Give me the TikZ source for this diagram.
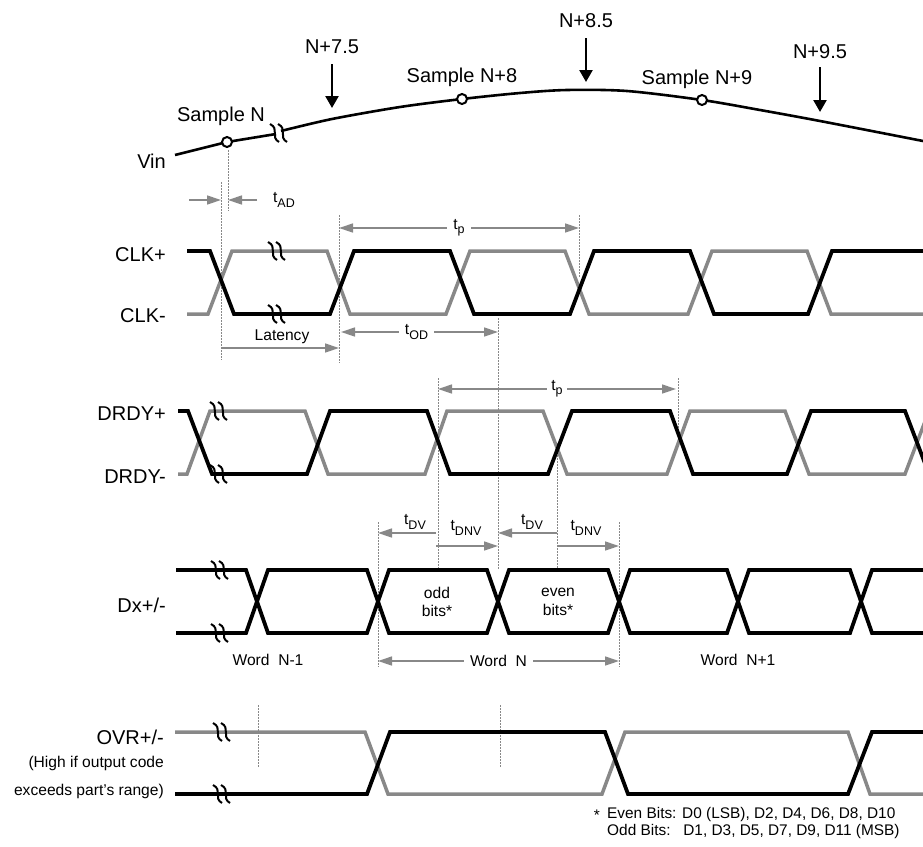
\documentclass[tikz,border=0pt]{standalone}
\usepackage{fontspec}
\setmainfont{Liberation Sans}
\usetikzlibrary{arrows.meta}
\definecolor{sg}{RGB}{136,136,136}
\newcommand{\bigf}{\fontsize{20}{24}\selectfont}
\newcommand{\smf}{\fontsize{15.6}{15.6}\selectfont}
\newcommand{\fnf}{\fontsize{15.4}{15.4}\selectfont}
\newcommand{\tsb}[1]{t\raisebox{-0.28em}{\fontsize{12.5}{14}\selectfont #1}}
\begin{document}
\begin{tikzpicture}[x=1pt,y=-1pt,
  lbl/.style={font=\bigf, inner sep=0pt},
  slbl/.style={font=\smf, inner sep=0pt},
  fnl/.style={font=\fnf, inner sep=0pt},
  sigb/.style={line width=3.8pt, black},
  sigg/.style={line width=3.5pt, sg},
  dimar/.style={sg, line width=1.4pt, -{Triangle[length=14pt,width=9pt]}},
  dimarr/.style={sg, line width=1.4pt, {Triangle[length=14pt,width=9pt]}-{Triangle[length=14pt,width=9pt]}},
  dimlbl/.style={font=\smf, text=black, fill=white, inner xsep=6pt, inner ysep=1pt},
  guide/.style={sg, line width=0.8pt, dash pattern=on 1.5pt off 1.5pt},
  evt/.style={black, line width=2.4pt, -{Triangle[length=12pt,width=13pt]}},
  smp/.style={circle, draw=black, fill=white, line width=2pt, minimum size=10pt, inner sep=0pt},
  brkmark/.pic={
    \draw[black, line width=2pt] (-9,-9) .. controls (1,-4) and (-9,4) .. (0,9);
    \draw[black, line width=2pt] (-1,-9) .. controls (9,-4) and (-1,4) .. (8,9);
  }
]
\useasboundingbox (0,0) rectangle (923,846);

% ---------------- Vin ----------------
\draw[black, line width=2.6pt] (175,155) -- (227,142) -- (276,134);
\draw[black, line width=2.6pt] plot[smooth, tension=0.5] coordinates {
  (281,131) (332,119) (400,107) (462,99) (520,93)
  (567,90) (627,91) (702,100) (760,110) (820,121) (923,141)};
\pic at (279,133) {brkmark};
\node[lbl, anchor=east] (vin) at (166,161) {Vin};
\node[smp] (sN) at (227,142) {};
\node[smp] (sN8) at (462,99) {};
\node[smp] (sN9) at (702,100) {};
\node[lbl] (lsN) at (221,116) {Sample N};
\node[lbl] (lsN8) at (462,77) {Sample N+8};
\node[lbl] (lsN9) at (697,79) {Sample N+9};
\node[lbl] (e75) at (332,47) {N+7.5};
\node[lbl] (e85) at (586,21) {N+8.5};
\node[lbl] (e95) at (820,52) {N+9.5};
\coordinate (e75s) at (332,64);
\coordinate (e85s) at (586,38);
\coordinate (e95s) at (820,67);
\coordinate (e75t) at (332,108);
\coordinate (e85t) at (586,82);
\coordinate (e95t) at (820,112);
\draw[evt] (e75s) -- (e75t);
\draw[evt] (e85s) -- (e85t);
\draw[evt] (e95s) -- (e95t);

% ---------------- guides ----------------
\draw[guide] (228,150) -- (228,211);
\draw[guide] (221,182) -- (221,360);
\draw[guide] (339,215) -- (339,363);
\draw[guide] (579,215) -- (579,278);
\draw[guide] (498,318) -- (498,570);
\draw[guide] (438,378) -- (438,568);
\draw[guide] (678,378) -- (678,430);
\draw[guide] (557,443) -- (557,568);
\draw[guide] (378,522) -- (378,667);
\draw[guide] (619,522) -- (619,667);
\draw[guide] (258,705) -- (258,768);
\draw[guide] (500,705) -- (500,768);

% t_AD
\coordinate (ad1) at (189,200);
\coordinate (ad2) at (221,200);
\coordinate (ad3) at (257,200);
\coordinate (ad4) at (228,200);
\draw[dimar] (ad1) -- (ad2);
\draw[dimar] (ad3) -- (ad4);
\node[slbl] (tad) at (284,200) {\tsb{AD}};

% ---------------- CLK ----------------
\node[lbl, anchor=east] (clkp) at (166,255) {CLK+};
\node[lbl, anchor=east] (clkm) at (166,316) {CLK-};
\draw[sigg] (187,314) -- (208,314) -- (232,251) -- (327,251) -- (350,314) -- (446,314)
  -- (470,251) -- (565,251) -- (589,314) -- (688,314) -- (712,251) -- (807,251)
  -- (831,314) -- (923,314);
\draw[sigb] (187,251) -- (210,251) -- (234,314) -- (330,314) -- (354,251) -- (450,251)
  -- (474,314) -- (570,314) -- (594,251) -- (690,251) -- (714,314) -- (808,314)
  -- (832,251) -- (923,251);
\pic at (277,251) {brkmark};
\pic at (277,314) {brkmark};

\coordinate (tp1a) at (339,228);
\coordinate (tp1b) at (579,228);
\draw[dimarr] (tp1a) -- (tp1b) node[dimlbl, midway] (tp1) {\tsb{p}};
\coordinate (lat1) at (221,348);
\coordinate (lat2) at (339,348);
\draw[dimar] (lat1) -- (lat2);
\node[slbl] (lat) at (282,337) {Latency};
\coordinate (tod1) at (341,332);
\coordinate (tod2) at (498,332);
\draw[dimarr] (tod1) -- (tod2) node[dimlbl, midway, xshift=-3pt] (tod) {\tsb{OD}};

% ---------------- DRDY ----------------
\node[lbl, anchor=east] (drp) at (166,414) {DRDY+};
\node[lbl, anchor=east] (drm) at (166,477) {DRDY-};
\begin{scope}
\clip (170,380) rectangle (923,500);
\draw[sigg] (178,474) -- (187,474) -- (210,411) -- (305,411) -- (328,474) -- (425,474)
  -- (447,411) -- (543,411) -- (567,474) -- (667,474) -- (690,411) -- (785,411)
  -- (809,474) -- (905,474) -- (929,411);
\draw[sigb] (178,411) -- (188,411) -- (212,474) -- (307,474) -- (330,411) -- (427,411)
  -- (450,474) -- (548,474) -- (572,411) -- (670,411) -- (693,474) -- (787,474)
  -- (811,411) -- (905,411) -- (929,474);
\end{scope}
\pic at (219,411) {brkmark};
\pic at (219,474) {brkmark};
\coordinate (tp2a) at (438,389);
\coordinate (tp2b) at (676,389);
\draw[dimarr] (tp2a) -- (tp2b) node[dimlbl, midway, inner xsep=4pt] (tp2) {\tsb{p}};

% ---------------- Dx ----------------
\node[lbl, anchor=east] (dx) at (166,605) {Dx+/-};
\draw[sigb] (176,570) -- (246,570) -- (268,633) -- (367,633) -- (389,570) -- (487,570)
  -- (509,633) -- (608,633) -- (630,570) -- (727,570) -- (749,633) -- (850,633)
  -- (872,570) -- (923,570);
\draw[sigb] (176,633) -- (246,633) -- (268,570) -- (367,570) -- (389,633) -- (487,633)
  -- (509,570) -- (608,570) -- (630,633) -- (727,633) -- (749,570) -- (850,570)
  -- (872,633) -- (923,633);
\pic at (220,570) {brkmark};
\pic at (220,633) {brkmark};
\node[slbl, align=center] (odd) at (437,602) {odd\\[3pt]bits*};
\node[slbl, align=center] (even) at (558,602) {even\\[3pt]bits*};

\coordinate (dv1a) at (436,533);
\coordinate (dv1b) at (378,533);
\draw[dimar] (dv1a) -- (dv1b);
\coordinate (dn1a) at (436,546);
\coordinate (dn1b) at (498,546);
\draw[dimar] (dn1a) -- (dn1b);
\coordinate (dv2a) at (557,533);
\coordinate (dv2b) at (498,533);
\draw[dimar] (dv2a) -- (dv2b);
\coordinate (dn2a) at (557,546);
\coordinate (dn2b) at (619,546);
\draw[dimar] (dn2a) -- (dn2b);
\node[slbl] (tdv1) at (415,522) {\tsb{DV}};
\node[slbl] (tdn1) at (466,528) {\tsb{DNV}};
\node[slbl] (tdv2) at (532,522) {\tsb{DV}};
\node[slbl] (tdn2) at (586,528) {\tsb{DNV}};

\node[slbl] (wm1) at (268,660) {Word\ \ N-1};
\coordinate (wna) at (378,661);
\coordinate (wnb) at (619,661);
\draw[dimarr] (wna) -- (wnb) node[dimlbl, midway] (wn) {Word\ \ N};
\node[slbl] (wp1) at (738,660) {Word\ \ N+1};

% ---------------- OVR ----------------
\node[lbl, anchor=east] (ovr) at (164,737) {OVR+/-};
\node[slbl, anchor=east] (ovr2) at (164,763) {(High if output code};
\node[slbl, anchor=east] (ovr3) at (164,791) {exceeds part’s range)};
\draw[sigg] (175,732) -- (365,732) -- (388,794) -- (602,794) -- (625,732) -- (848,732)
  -- (870,794) -- (923,794);
\draw[sigb] (175,794) -- (367,794) -- (390,732) -- (605,732) -- (628,794) -- (848,794)
  -- (872,732) -- (923,732);
\pic at (222,732) {brkmark};
\pic at (222,794) {brkmark};

% ---------------- footnote ----------------
\node[fnl, anchor=east] (fn0) at (600,815) {*};
\node[fnl, anchor=west] (fn1) at (607,815) {Even Bits: D0 (LSB), D2, D4, D6, D8, D10};
\node[fnl, anchor=west] (fn2) at (607,832) {Odd Bits:\ \ \ D1, D3, D5, D7, D9, D11 (MSB)};
\end{tikzpicture}
\end{document}
